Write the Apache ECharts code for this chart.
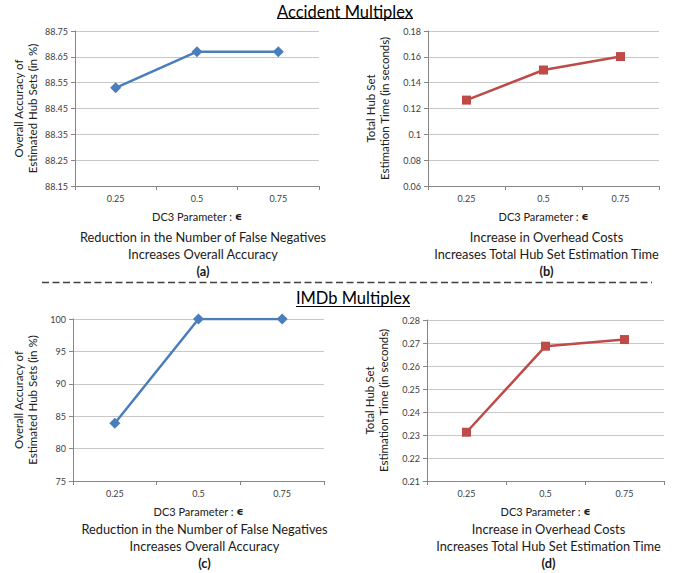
<!DOCTYPE html>
<html><head><meta charset="utf-8">
<script src="https://cdn.jsdelivr.net/npm/echarts@6/dist/echarts.min.js"></script>
<style>html,body{margin:0;padding:0;background:#fff}#c{width:681px;height:573px}</style>
</head><body><div id="c"></div>
<script>
const categories = ['0.25', '0.5', '0.75'];
const accidentAccuracy = [88.53, 88.67, 88.67];
const accidentTime = [0.1265, 0.1498, 0.1602];
const imdbAccuracy = [83.9, 100, 100];
const imdbTime = [0.2312, 0.2686, 0.2715];
const xName = 'DC3 Parameter : {e|\u03F5}';
const yNameAcc = 'Overall Accuracy of\nEstimated Hub Sets (in %)';
const yNameTime = 'Total Hub Set\nEstimation Time (in seconds)';
const captionAcc = ['Reduction in the Number of False Negatives', 'Increases Overall Accuracy'];
const captionTime = ['Increase in Overhead Costs', 'Increases Total Hub Set Estimation Time'];
const panelLabels = ['(a)', '(b)', '(c)', '(d)'];
const titles = ['Accident Multiplex', 'IMDb Multiplex'];

const FONT = 'Lato, "Open Sans", sans-serif';
const BLUE = '#4a7ebb', RED = '#be4b48';

const grids = [
  {left: 75, top: 31, width: 244, height: 155},
  {left: 428, top: 31, width: 231, height: 155},
  {left: 73, top: 319, width: 251, height: 162},
  {left: 427, top: 320, width: 237, height: 161}
];
const yCfg = [
  {min: 88.15, max: 88.75, interval: 0.1, name: yNameAcc, dec: 2, gap: 36},
  {min: 0.06, max: 0.18, interval: 0.02, name: yNameTime, dec: -1, gap: 37},
  {min: 75, max: 100, interval: 5, name: yNameAcc, dec: 0, gap: 34},
  {min: 0.21, max: 0.28, interval: 0.01, name: yNameTime, dec: -1, gap: 37}
];
const seriesData = [accidentAccuracy, accidentTime, imdbAccuracy, imdbTime];
const colors = [BLUE, RED, BLUE, RED];
const symbols = ['diamond', 'rect', 'diamond', 'rect'];
const captions = [captionAcc, captionTime, captionAcc, captionTime];
const captionOffset = [42, 42, 39, 39];

const xAxis = grids.map((g, i) => ({
  type: 'category', gridIndex: i, data: categories, boundaryGap: true,
  axisLine: {lineStyle: {color: '#868686', width: 1}},
  axisTick: {show: true, length: 4, lineStyle: {color: '#868686'}},
  axisLabel: {color: '#404040', fontSize: 9, fontFamily: FONT, margin: 8},
  name: xName, nameLocation: 'middle', nameGap: 25,
  nameTextStyle: {color: '#202020', fontSize: 11, fontFamily: FONT,
    rich: {e: {fontSize: 11, fontWeight: 'bold', fontFamily: '"DejaVu Sans", sans-serif', color: '#202020'}}}
}));
const yAxis = yCfg.map((c, i) => ({
  type: 'value', gridIndex: i, min: c.min, max: c.max, interval: c.interval,
  axisLine: {show: true, lineStyle: {color: '#868686', width: 1}},
  axisTick: {show: true, length: 4, lineStyle: {color: '#868686'}},
  splitLine: {show: true, lineStyle: {color: '#c8c8c8', width: 1}},
  axisLabel: {color: '#404040', fontSize: 9, fontFamily: FONT, margin: 7,
    formatter: v => c.dec >= 0 ? v.toFixed(c.dec) : String(parseFloat(v.toFixed(4)))},
  name: c.name, nameLocation: 'middle', nameGap: c.gap, nameRotate: 90,
  nameTextStyle: {color: '#202020', fontSize: 11.5, fontFamily: FONT, lineHeight: 14}
}));
const series = seriesData.map((d, i) => ({
  type: 'line', xAxisIndex: i, yAxisIndex: i, data: d,
  symbol: symbols[i], symbolSize: i % 2 ? 9 : 11,
  lineStyle: {color: colors[i], width: 2.5},
  itemStyle: {color: colors[i]},
  animation: false
}));

const graphic = [];
grids.forEach((g, i) => {
  const cx = g.left + g.width / 2 + (i % 2 ? 3 : 6);
  const y0 = g.top + g.height + captionOffset[i];
  graphic.push({
    type: 'text', x: cx, y: y0,
    style: {
      text: captions[i][0] + '\n' + captions[i][1] + '\n{b|' + panelLabels[i] + '}',
      textAlign: 'center', textVerticalAlign: 'top',
      fill: '#1a1a1a', fontSize: 12.8, fontFamily: FONT, lineHeight: 17,
      rich: {b: {fontWeight: 'bold', fontSize: 12.8, fontFamily: FONT, lineHeight: 17, fill: '#1a1a1a'}}
    }
  });
});
const titleX = [345, 353];
const titleY = [12, 298];
titles.forEach((t, k) => {
  graphic.push({
    type: 'text', x: titleX[k], y: titleY[k],
    style: {text: t, textAlign: 'center', textVerticalAlign: 'middle',
      fill: '#000', fontSize: 16.5, fontFamily: FONT}
  });
});
graphic.push({type: 'line', shape: {x1: 277, y1: 18.5, x2: 413, y2: 18.5}, style: {stroke: '#000', lineWidth: 1}});
graphic.push({type: 'line', shape: {x1: 296, y1: 306.5, x2: 410, y2: 306.5}, style: {stroke: '#000', lineWidth: 1}});
graphic.push({type: 'line', shape: {x1: 42, y1: 282.5, x2: 652, y2: 282.5},
  style: {stroke: '#404040', lineWidth: 1.3, lineDash: [7, 3.5]}});

const chart = echarts.init(document.getElementById('c'), null, {renderer: 'svg'});
chart.setOption({
  animation: false,
  backgroundColor: '#fff',
  grid: grids.map(g => Object.assign({containLabel: false}, g)),
  xAxis, yAxis, series, graphic
});
</script></body></html>
